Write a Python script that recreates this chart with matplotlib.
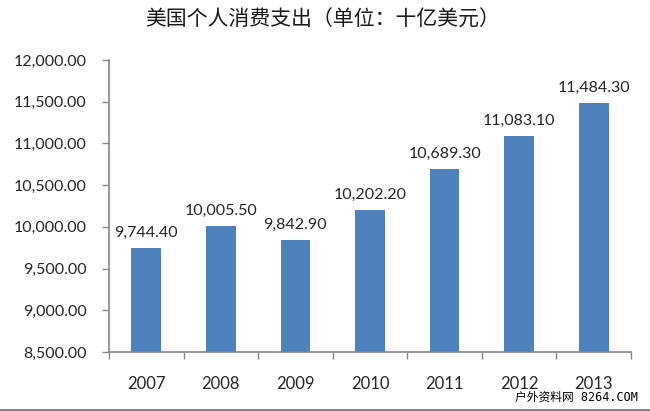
import numpy as np
import matplotlib
matplotlib.use('Agg')
from matplotlib import pyplot as plt
from matplotlib.ticker import FuncFormatter, FixedLocator

years = ['2007', '2008', '2009', '2010', '2011', '2012', '2013']
spending = [9744.40, 10005.50, 9842.90, 10202.20, 10689.30, 11083.10, 11484.30]
title = '美国个人消费支出（单位：十亿美元）'
watermark = '户外资料网 8264.COM'

bar_color = '#4F81BD'
axis_color = '#868686'
text_color = '#262626'

fig = plt.figure(figsize=(6.5, 4.11), dpi=100)
ax = fig.add_axes([109/650, 1 - 352/411, (631 - 109)/650, (352 - 60)/411])

x = np.arange(len(years))
bars = ax.bar(x, spending, width=0.4, color=bar_color, zorder=2)

ax.set_ylim(8500, 12000)
ax.set_xlim(-0.5, len(years) - 0.5)
ax.set_yticks(np.arange(8500, 12001, 500))
ax.yaxis.set_major_formatter(FuncFormatter(lambda v, p: '{:,.2f}'.format(v)))

ax.set_xticks(x)
ax.set_xticklabels(years)
ax.xaxis.set_minor_locator(FixedLocator(np.arange(-0.5, len(years), 1)))
ax.tick_params(axis='x', which='major', length=0, pad=17, labelsize=12,
               labelcolor=text_color)
ax.tick_params(axis='x', which='minor', length=5, color=axis_color, width=1)
ax.tick_params(axis='y', length=5, color=axis_color, width=1, pad=11,
               labelsize=11.5, labelcolor=text_color)
for lbl in ax.get_xticklabels() + ax.get_yticklabels():
    lbl.set_family(['Lato', 'DejaVu Sans'])

for s in ['top', 'right']:
    ax.spines[s].set_visible(False)
for s in ['left', 'bottom']:
    ax.spines[s].set_color(axis_color)
    ax.spines[s].set_linewidth(1.2)

for xi, v in zip(x, spending):
    ax.annotate('{:,.2f}'.format(v), (xi, v), xytext=(0, 6),
                textcoords='offset points', ha='center', va='bottom',
                fontsize=11.5, color=text_color, family=['Lato', 'DejaVu Sans'])

fig.text(323/650, 1 - 20/411, title, ha='center', va='center', fontsize=15,
         color='#1a1a1a', family=['Noto Sans CJK SC', 'DejaVu Sans'])

fig.text(638/650, 1 - 397/411, watermark, ha='right', va='center', fontsize=8.5,
         color='black', family=['DejaVu Sans Mono', 'Noto Sans CJK SC'])

# gray strip along the bottom edge
fig.add_artist(plt.Line2D([0, 1], [1.5/411, 1.5/411], color='#808080',
                          linewidth=2, transform=fig.transFigure))

fig.savefig('out.png', dpi=100)
